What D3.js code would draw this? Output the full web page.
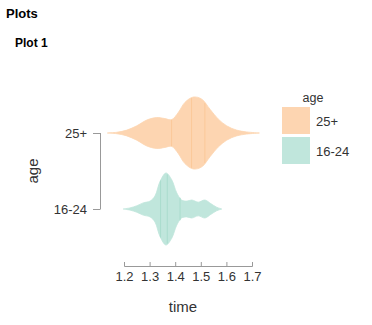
<!DOCTYPE html>
<html>
<head>
<meta charset="utf-8">
<script src="https://cdn.jsdelivr.net/npm/d3@7"></script>
<style>
  body { margin: 0; background: #fff; }
  text { font-family: "Liberation Sans", Arial, sans-serif; fill: #333; }
</style>
</head>
<body>
<script>
var svgWidth = 372;
var svgHeight = 325;

// groups (top to bottom) and their colours
var groups = ["25+", "16-24"];
var fills = ["#fdd5b1", "#c0e6dc"];
var quartileColors = ["#fbc899", "#a9dccd"];

// density profile of time for age 25+ (relative density)
var time25 = [1.133, 1.170, 1.209, 1.248, 1.287, 1.326, 1.358, 1.384, 1.410, 1.436, 1.469, 1.502, 1.534, 1.566, 1.599, 1.638, 1.677, 1.727];
var dens25 = [0, 0.02, 0.08, 0.20, 0.36, 0.43, 0.40, 0.37, 0.57, 0.85, 1.0, 0.94, 0.66, 0.39, 0.20, 0.08, 0.03, 0];
var quart25 = [1.384, 1.462, 1.514];

// density profile of time for age 16-24
var time1624 = [1.195, 1.221, 1.248, 1.273, 1.300, 1.319, 1.339, 1.362, 1.384, 1.404, 1.423, 1.443, 1.463, 1.488, 1.514, 1.537, 1.560, 1.580];
var dens1624 = [0, 0.03, 0.09, 0.17, 0.22, 0.36, 0.77, 1.0, 0.82, 0.45, 0.25, 0.22, 0.25, 0.19, 0.25, 0.15, 0.05, 0];
var quart1624 = [1.341, 1.367, 1.417];

var xTicks = [1.2, 1.3, 1.4, 1.5, 1.6, 1.7];

var svg = d3.select("body")
    .append("svg")
    .attr("width", svgWidth)
    .attr("height", svgHeight);

svg.append("text").attr("x", 6).attr("y", 18)
    .style("font-size", "13px").style("font-weight", "bold").style("fill", "#000")
    .text("Plots");
svg.append("text").attr("x", 15).attr("y", 47)
    .style("font-size", "12px").style("font-weight", "bold").style("fill", "#000")
    .text("Plot 1");

var xScale = d3.scaleLinear().domain([1.2, 1.7]).range([124.5, 252.5]);
var yScale = d3.scalePoint().domain(groups).range([133, 209]);
var wScale = d3.scaleLinear().domain([0, 1]).range([0, 36]);

var profiles = [
    { group: "25+", time: time25, dens: dens25, quart: quart25 },
    { group: "16-24", time: time1624, dens: dens1624, quart: quart1624 }
];

profiles.forEach(function(p, i) {
    var cy = yScale(p.group);
    var pts = p.time.map(function(t, j) { return [t, p.dens[j]]; });

    var area = d3.area()
        .curve(d3.curveCatmullRom)
        .x(d => xScale(d[0]))
        .y0(d => cy + wScale(d[1]))
        .y1(d => cy - wScale(d[1]));

    svg.append("path")
        .attr("d", area(pts))
        .attr("fill", fills[i])
        .attr("stroke", fills[i])
        .attr("stroke-width", 0.8);

    var densAt = d3.scaleLinear().domain(p.time).range(p.dens);
    p.quart.forEach(function(q) {
        var h = wScale(densAt(q));
        svg.append("line")
            .attr("x1", xScale(q)).attr("x2", xScale(q))
            .attr("y1", cy - h).attr("y2", cy + h)
            .attr("stroke", quartileColors[i])
            .attr("stroke-width", 1);
    });
});

// x axis
var xAxis = svg.append("g");
xAxis.append("line")
    .attr("x1", xScale(1.2)).attr("x2", xScale(1.7))
    .attr("y1", 266.5).attr("y2", 266.5)
    .attr("stroke", "#999");
xAxis.selectAll(".xt").data(xTicks).enter().append("line")
    .attr("x1", d => xScale(d)).attr("x2", d => xScale(d))
    .attr("y1", 262).attr("y2", 266.5)
    .attr("stroke", "#999");
xAxis.selectAll(".xl").data(xTicks).enter().append("text")
    .attr("x", d => xScale(d)).attr("y", 280.5)
    .attr("text-anchor", "middle")
    .style("font-size", "13px")
    .text(d => d3.format(".1f")(d));
svg.append("text").attr("x", 183).attr("y", 311.5)
    .attr("text-anchor", "middle")
    .style("font-size", "15px")
    .text("time");

// y axis
var yAxis = svg.append("g");
yAxis.append("line")
    .attr("x1", 100.5).attr("x2", 100.5)
    .attr("y1", yScale("25+")).attr("y2", yScale("16-24"))
    .attr("stroke", "#999");
yAxis.selectAll(".yt").data(groups).enter().append("line")
    .attr("x1", 93).attr("x2", 100.5)
    .attr("y1", d => yScale(d) + 0.5).attr("y2", d => yScale(d) + 0.5)
    .attr("stroke", "#999");
yAxis.selectAll(".yl").data(groups).enter().append("text")
    .attr("x", 87).attr("y", d => yScale(d) + 4.5)
    .attr("text-anchor", "end")
    .style("font-size", "13px")
    .text(d => d);
svg.append("text")
    .attr("transform", "translate(38,171) rotate(-90)")
    .attr("text-anchor", "middle")
    .style("font-size", "15px")
    .text("age");

// legend
var legend = svg.append("g");
legend.append("text").attr("x", 313).attr("y", 102)
    .attr("text-anchor", "middle")
    .style("font-size", "12.5px")
    .text("age");
legend.selectAll("rect").data(groups).enter().append("rect")
    .attr("x", 282).attr("y", (d, i) => 107 + i * 30)
    .attr("width", 28).attr("height", 27)
    .attr("fill", (d, i) => fills[i]);
legend.selectAll(".ll").data(groups).enter().append("text")
    .attr("x", 316).attr("y", (d, i) => 125.5 + i * 30)
    .style("font-size", "13px")
    .text(d => d);
</script>
</body>
</html>
